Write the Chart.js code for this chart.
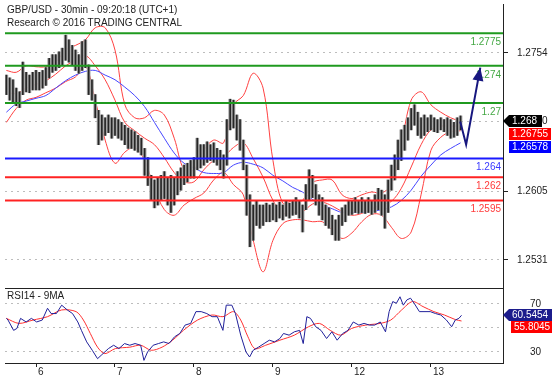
<!DOCTYPE html>
<html lang="en">
<head>
  <meta charset="UTF-8" />
  <title>GBP/USD - 30min</title>
  <script src="https://cdn.jsdelivr.net/npm/chart.js"></script>
  <style>
    html, body {
      margin: 0;
      padding: 0;
      background: #fff;
    }
    body {
      width: 557px;
      height: 378px;
      position: relative;
      overflow: hidden;
      font-family: Arial, "Liberation Sans", sans-serif;
    }
    #priceWrap { position: absolute; left: 0; top: 0; width: 557px; height: 288px; }
    #rsiWrap { position: absolute; left: 0; top: 288px; width: 557px; height: 90px; }
    .caption {
      position: absolute;
      left: 7px;
      font-size: 10px;
      line-height: 12.5px;
      color: #222;
      white-space: nowrap;
    }
  </style>
</head>
<body>
  <div id="priceWrap"><canvas id="priceChart" width="557" height="288"></canvas></div>
  <div id="rsiWrap"><canvas id="rsiChart" width="557" height="90"></canvas></div>
  <div class="caption" style="top:4px">GBP/USD - 30min - 09:20:18 (UTC+1)<br>Research © 2016 TRADING CENTRAL</div>
  <div class="caption" style="top:290px">RSI14 - 9MA</div>

  <script>
    // time axis is in hours, 0 = start of day 6 (weekend removed)
    const dayTicks = [0, 24, 48, 72, 96, 120];
    const dayLabels = ['6', '7', '8', '9', '12', '13'];
    const priceTicks = [1.2531, 1.2605, 1.2680, 1.2754];
    const rsiTicks = [30, 50, 70];

    // hourly price bars (high / low), first bar at hour -9
    const firstBarHour = -9;
    const barHigh = [
      1.2730, 1.2727, 1.2725, 1.2716, 1.2712, 1.2744, 1.2733, 1.2730, 1.2733,
      1.2735, 1.2733, 1.2735, 1.2738, 1.2748, 1.2752, 1.2752, 1.2755, 1.2759, 1.2773,
      1.2768, 1.2762, 1.2757, 1.2752, 1.2766, 1.2768, 1.2741, 1.2725, 1.2709, 1.2692,
      1.2687, 1.2684, 1.2687, 1.2684, 1.2684, 1.2682, 1.2679, 1.2676, 1.2673, 1.2671,
      1.2669, 1.2665, 1.2662, 1.2651, 1.2641, 1.2622, 1.2617, 1.2619, 1.2622, 1.2626,
      1.2619, 1.2622, 1.2619, 1.2626, 1.2630, 1.2633, 1.2635, 1.2638, 1.2641, 1.2662,
      1.2655, 1.2655, 1.2658, 1.2655, 1.2657, 1.2651, 1.2649, 1.2644, 1.2682, 1.2704,
      1.2703, 1.2687, 1.2682, 1.2660, 1.2633, 1.2601, 1.2590, 1.2595, 1.2590, 1.2590,
      1.2592, 1.2590, 1.2592, 1.2590, 1.2593, 1.2590, 1.2595, 1.2592, 1.2595, 1.2598,
      1.2595, 1.2590, 1.2612, 1.2628, 1.2622, 1.2612, 1.2601, 1.2598, 1.2590, 1.2587,
      1.2579, 1.2574, 1.2579, 1.2587, 1.2590, 1.2595, 1.2595, 1.2598, 1.2595, 1.2598,
      1.2595, 1.2598, 1.2595, 1.2601, 1.2608, 1.2606, 1.2601, 1.2617, 1.2633, 1.2644,
      1.2660, 1.2671, 1.2676, 1.2684, 1.2694, 1.2698, 1.2690, 1.2684, 1.2687, 1.2684,
      1.2687, 1.2684, 1.2682, 1.2684, 1.2682, 1.2684, 1.2682, 1.2679, 1.2684, 1.2686
    ];
    const barLow = [
      1.2709, 1.2703, 1.2700, 1.2697, 1.2695, 1.2709, 1.2712, 1.2711, 1.2714,
      1.2714, 1.2714, 1.2716, 1.2719, 1.2727, 1.2733, 1.2735, 1.2738, 1.2741, 1.2746,
      1.2744, 1.2741, 1.2735, 1.2732, 1.2735, 1.2738, 1.2709, 1.2703, 1.2684, 1.2655,
      1.2660, 1.2665, 1.2668, 1.2662, 1.2665, 1.2662, 1.2660, 1.2655, 1.2651, 1.2651,
      1.2649, 1.2647, 1.2644, 1.2622, 1.2611, 1.2595, 1.2587, 1.2590, 1.2595, 1.2597,
      1.2590, 1.2582, 1.2590, 1.2601, 1.2606, 1.2612, 1.2615, 1.2619, 1.2619, 1.2628,
      1.2630, 1.2633, 1.2636, 1.2638, 1.2636, 1.2633, 1.2628, 1.2619, 1.2633, 1.2671,
      1.2673, 1.2660, 1.2649, 1.2628, 1.2579, 1.2545, 1.2552, 1.2568, 1.2565, 1.2568,
      1.2572, 1.2572, 1.2574, 1.2572, 1.2576, 1.2574, 1.2578, 1.2576, 1.2579, 1.2580,
      1.2576, 1.2561, 1.2585, 1.2595, 1.2598, 1.2590, 1.2579, 1.2574, 1.2568, 1.2565,
      1.2558, 1.2552, 1.2552, 1.2568, 1.2572, 1.2579, 1.2580, 1.2582, 1.2581, 1.2582,
      1.2581, 1.2582, 1.2580, 1.2582, 1.2585, 1.2579, 1.2565, 1.2582, 1.2606, 1.2617,
      1.2628, 1.2638, 1.2649, 1.2660, 1.2671, 1.2676, 1.2665, 1.2662, 1.2665, 1.2669,
      1.2671, 1.2669, 1.2668, 1.2671, 1.2669, 1.2665, 1.2662, 1.2663, 1.2665, 1.2671
    ];

    // Bollinger bands and the blue moving average, read every 3 hours
    const bandHours = [-9, -6, -3, 0, 3, 6, 9, 12, 15, 18, 21, 24, 27, 30, 33, 36, 39, 42, 45, 48,
      51, 54, 57, 60, 63, 66, 69, 72, 75, 78, 81, 84, 87, 90, 93, 96, 99, 102, 105, 108,
      111, 114, 117, 120, 123, 126, 129];
    const bbUpper = [1.2735, 1.2733, 1.2740, 1.2739, 1.2739, 1.2744, 1.2757, 1.2762, 1.2768, 1.2781,
      1.2781, 1.2757, 1.2698, 1.2684, 1.2684, 1.2692, 1.2687, 1.2662, 1.2628, 1.2628,
      1.2649, 1.2660, 1.2657, 1.2698, 1.2708, 1.2732, 1.2716, 1.2638, 1.2592, 1.2595,
      1.2595, 1.2614, 1.2617, 1.2617, 1.2601, 1.2597, 1.2601, 1.2604, 1.2603, 1.2612,
      1.2655, 1.2703, 1.2712, 1.2698, 1.2690, 1.2684, 1.2680];
    const bbMiddle = [1.2712, 1.2710, 1.2716, 1.2720, 1.2724, 1.2731, 1.2740, 1.2746, 1.2751, 1.2740,
      1.2725, 1.2703, 1.2679, 1.2670, 1.2662, 1.2655, 1.2641, 1.2625, 1.2615, 1.2615,
      1.2628, 1.2638, 1.2642, 1.2652, 1.2657, 1.2640, 1.2620, 1.2595, 1.2581, 1.2582,
      1.2583, 1.2591, 1.2593, 1.2589, 1.2583, 1.2579, 1.2581, 1.2586, 1.2590, 1.2594,
      1.2608, 1.2631, 1.2655, 1.2671, 1.2675, 1.2675, 1.2675];
    const bbLower = [1.2679, 1.2694, 1.2703, 1.2706, 1.2711, 1.2716, 1.2723, 1.2728, 1.2740, 1.2703,
      1.2660, 1.2635, 1.2647, 1.2652, 1.2638, 1.2608, 1.2585, 1.2579, 1.2590, 1.2597,
      1.2603, 1.2617, 1.2625, 1.2612, 1.2601, 1.2552, 1.2518, 1.2552, 1.2570, 1.2574,
      1.2574, 1.2572, 1.2572, 1.2563, 1.2554, 1.2560, 1.2572, 1.2580, 1.2579, 1.2566,
      1.2554, 1.2561, 1.2601, 1.2649, 1.2663, 1.2669, 1.2670];
    const maBlue = [1.2690, 1.2699, 1.2702, 1.2705, 1.2708, 1.2716, 1.2724, 1.2730, 1.2734, 1.2735,
      1.2730, 1.2725, 1.2717, 1.2708, 1.2696, 1.2679, 1.2662, 1.2646, 1.2635, 1.2630,
      1.2625, 1.2624, 1.2625, 1.2633, 1.2636, 1.2634, 1.2630, 1.2622, 1.2616, 1.2609,
      1.2604, 1.2596, 1.2590, 1.2586, 1.2582, 1.2582, 1.2582, 1.2583, 1.2585, 1.2588,
      1.2595, 1.2606, 1.2621, 1.2633, 1.2644, 1.2651, 1.2657];

    // support / resistance levels
    const levelValues = [1.2775, 1.274, 1.27, 1.264, 1.262, 1.2595];
    const levelLabels = ['1.2775', '1.274', '1.27', '1.264', '1.262', '1.2595'];
    const levelColors = ['#1f9a1f', '#1f9a1f', '#1f9a1f', '#1a1aff', '#ff2222', '#ff2222'];
    const levelTextColors = ['#44a844', '#44a844', '#44a844', '#3a3aff', '#ff3a3a', '#ff3a3a'];

    // expected path
    const arrowHours = [128.9, 130.7, 135];
    const arrowPrices = [1.2680, 1.2655, 1.2738];

    const lastPrice = 1.268;
    const lastMiddle = 1.26755;
    const lastBlue = 1.26578;

    // RSI14 and its 9 period average
    const rsiHours = [-9, -8.5, -6.8, -5.8, -4.7, -3, -1.4, 0.2, 1.9, 3.5, 4.6, 6.2, 7.8, 9.5, 11.1, 12.7,
      13.8, 15.4, 17.1, 18.7, 19.8, 22, 23.6, 25.2, 26.9, 28.5, 30.1, 31.8, 32.8, 33.9, 35.6, 37.2,
      38.8, 40.4, 42.1, 43.7, 45.3, 47, 48.6, 50.2, 51.9, 53.5, 55.1, 56.8, 57.8, 59.5, 60.6, 62.2,
      63.8, 64.9, 66, 67.6, 69.3, 70.9, 72.5, 74.1, 75.2, 76.9, 78.5, 80.1, 81.2, 82.3, 83.4, 85,
      86.6, 88.3, 89.9, 91.5, 93.2, 94.8, 96.4, 98.1, 99.7, 101.3, 102.9, 104.6, 106.2, 107.3, 108.4,
      109.5, 110.6, 111.6, 112.7, 113.8, 114.9, 116.5, 118.2, 119.8, 121.4, 123, 124.7, 126.3, 127.4,
      128.5, 129.3];
    const rsiValues = [58, 56.6, 48, 49.6, 58, 55, 58, 55, 56.6, 66.4, 62, 62, 69, 65, 62, 55,
      48, 38.4, 31.4, 24.4, 27.2, 32.8, 35.6, 32.8, 37, 35.6, 37, 35.6, 23, 30, 35.6, 37,
      38.4, 37, 42.6, 45.4, 52.4, 53.8, 63.6, 63.6, 62, 59.4, 59.4, 48, 69, 69, 62, 44,
      30, 25.8, 31.4, 34, 37, 39.8, 38.4, 41.2, 45.4, 44, 46.8, 48, 37, 59.4, 58, 51,
      48, 41.2, 46.8, 39.8, 45.4, 48, 55, 52.4, 53.8, 52.4, 52.4, 55, 46.8, 63.6, 72,
      70.6, 76, 69, 73.4, 74.8, 70.6, 63.6, 63.6, 63.6, 62, 60.8, 56.6, 51, 56.6,
      58, 60.5454];
    const rsiMaHours = [-9, -5.2, -0.9, 3.5, 7.8, 12.2, 14.4, 16.5, 18.7, 20.9, 24.1, 28.5, 31.8, 35,
      38.3, 41.5, 44.8, 49.1, 53.5, 56.8, 60, 62.2, 64.4, 66.5, 69.8, 74.1, 78.5, 82.8, 86.1, 89.4,
      92.6, 95.9, 100.2, 104.6, 107.8, 111.1, 114.4, 117.6, 120.9, 124.1, 127.4, 129.3];
    const rsiMaValues = [58, 53.8, 56.6, 59.4, 65, 63.6, 56.6, 45.4, 34, 28.6, 32.8, 34, 35.6, 31.4,
      34, 39.8, 48, 56.6, 60.8, 59.4, 63.6, 56.6, 42.6, 32.8, 35.6, 39.8, 44, 51, 53.8, 48,
      44, 49.6, 52.4, 53.8, 56.6, 65, 72, 67.8, 63.6, 60.8, 57, 55.8045];
    const lastRsi = 60.5454;
    const lastRsiMa = 55.8045;

    const X_MIN = -9.42;
    const X_MAX = 141.9;
    const FONT = 'Arial, "Liberation Sans", sans-serif';
    const ARROW_COLOR = '#17177f';

    Chart.defaults.font.family = FONT;
    Chart.defaults.font.size = 10;
    Chart.defaults.color = '#222';

    function pts(xs, ys) {
      return xs.map((x, i) => ({ x: x, y: ys[i] }));
    }

    function lineSet(data, color, width, tension) {
      return {
        type: 'line',
        data: data,
        borderColor: color,
        borderWidth: width,
        pointRadius: 0,
        tension: tension,
        fill: false
      };
    }

    function tagBox(ctx, text, left, right, cy, fill, pointed) {
      const h = 12;
      const top = Math.round(cy - h / 2);
      ctx.beginPath();
      if (pointed) {
        ctx.moveTo(left - 6, top + h / 2);
        ctx.lineTo(left, top);
        ctx.lineTo(right, top);
        ctx.lineTo(right, top + h);
        ctx.lineTo(left, top + h);
        ctx.closePath();
      } else {
        ctx.rect(left, top, right - left, h);
      }
      ctx.fillStyle = fill;
      ctx.fill();
      ctx.fillStyle = '#fff';
      ctx.textAlign = 'left';
      ctx.textBaseline = 'middle';
      ctx.fillText(text, left + 3, top + h / 2 + 0.5);
    }

    const priceOverlay = {
      id: 'priceOverlay',
      afterDatasetsDraw(chart) {
        const { ctx, scales: { x, y } } = chart;
        ctx.save();
        ctx.font = '10px ' + FONT;
        ctx.textAlign = 'right';
        ctx.textBaseline = 'middle';
        levelValues.forEach((v, i) => {
          ctx.fillStyle = levelTextColors[i];
          ctx.fillText(levelLabels[i], x.right - 2, y.getPixelForValue(v) + 9);
        });
        // arrow head at the end of the forecast path
        const n = arrowHours.length;
        const tx = x.getPixelForValue(arrowHours[n - 1]);
        const ty = y.getPixelForValue(arrowPrices[n - 1]);
        const fx = x.getPixelForValue(arrowHours[n - 2]);
        const fy = y.getPixelForValue(arrowPrices[n - 2]);
        const a = Math.atan2(ty - fy, tx - fx);
        const len = 13, half = 5.5;
        const bx = tx - len * Math.cos(a), by = ty - len * Math.sin(a);
        ctx.beginPath();
        ctx.moveTo(tx, ty);
        ctx.lineTo(bx + half * Math.sin(a), by - half * Math.cos(a));
        ctx.lineTo(bx - half * Math.sin(a), by + half * Math.cos(a));
        ctx.closePath();
        ctx.fillStyle = ARROW_COLOR;
        ctx.fill();
        ctx.restore();
      },
      afterDraw(chart) {
        const { ctx, scales: { y } } = chart;
        ctx.save();
        ctx.font = '10px ' + FONT;
        const cy = y.getPixelForValue(lastPrice);
        tagBox(ctx, lastPrice.toFixed(3), 509, 542, cy, '#000', true);
        tagBox(ctx, lastMiddle.toFixed(5), 509, 551, cy + 13, '#ff0000', false);
        tagBox(ctx, lastBlue.toFixed(5), 509, 551, cy + 26, '#0000ff', false);
        ctx.restore();
      }
    };

    const rsiOverlay = {
      id: 'rsiOverlay',
      afterDraw(chart) {
        const { ctx, scales: { y } } = chart;
        ctx.save();
        ctx.font = '10px ' + FONT;
        const cy = y.getPixelForValue(lastRsi);
        tagBox(ctx, lastRsi.toFixed(4), 509, 552, cy, '#1c1c8c', true);
        tagBox(ctx, lastRsiMa.toFixed(4), 511, 552, cy + 12, '#ff0000', false);
        ctx.restore();
      }
    };

    const barData = barHigh.map((hi, i) => ({ x: firstBarHour + i, y: [barLow[i], hi] }));

    const priceDatasets = [
      lineSet(pts(arrowHours, arrowPrices), ARROW_COLOR, 2, 0)
    ];
    levelValues.forEach((v, i) => {
      priceDatasets.push(lineSet([{ x: X_MIN, y: v }, { x: X_MAX, y: v }], levelColors[i], 2, 0));
    });
    priceDatasets.push(
      { type: 'bar', data: barData, backgroundColor: '#262626', barThickness: 1, grouped: false },
      { type: 'bar', data: barData, backgroundColor: '#a2a2a2', barThickness: 3, grouped: false },
      lineSet(pts(bandHours, maBlue), '#4646ff', 1, 0.35),
      lineSet(pts(bandHours, bbUpper), '#ff4040', 1, 0.35),
      lineSet(pts(bandHours, bbMiddle), '#ff4040', 1, 0.35),
      lineSet(pts(bandHours, bbLower), '#ff4040', 1, 0.35)
    );

    new Chart(document.getElementById('priceChart'), {
      type: 'bar',
      data: { datasets: priceDatasets },
      options: {
        responsive: false,
        animation: false,
        devicePixelRatio: 1,
        layout: { padding: { left: 5, right: 0, top: 4, bottom: 0 } },
        plugins: { legend: { display: false }, tooltip: { enabled: false } },
        scales: {
          x: { type: 'linear', display: false, min: X_MIN, max: X_MAX, offset: false },
          y: {
            position: 'right',
            min: 1.25006,
            max: 1.28066,
            afterBuildTicks: s => { s.ticks = priceTicks.map(v => ({ value: v })); },
            afterFit: s => { s.width = 54; s.paddingTop = 0; s.paddingBottom = 0; },
            ticks: { callback: v => v.toFixed(4), color: '#222', padding: 9 },
            grid: { color: '#bdbdbd', tickColor: '#222', tickLength: 5, tickBorderDash: [] },
            border: { color: '#222', dash: [2, 4] }
          }
        }
      },
      plugins: [priceOverlay]
    });

    new Chart(document.getElementById('rsiChart'), {
      type: 'line',
      data: {
        datasets: [
          lineSet(pts(rsiHours, rsiValues), '#20209a', 1, 0),
          lineSet(pts(rsiMaHours, rsiMaValues), '#ff3030', 1, 0.3)
        ]
      },
      options: {
        responsive: false,
        animation: false,
        devicePixelRatio: 1,
        layout: { padding: { left: 5, right: 0, top: 0, bottom: 0 } },
        plugins: { legend: { display: false }, tooltip: { enabled: false } },
        scales: {
          x: {
            type: 'linear',
            position: 'bottom',
            min: X_MIN,
            max: X_MAX,
            afterBuildTicks: s => { s.ticks = dayTicks.map(v => ({ value: v })); },
            afterFit: s => { s.height = 15; s.paddingLeft = 0; s.paddingRight = 0; },
            ticks: {
              callback: v => dayLabels[dayTicks.indexOf(v)],
              align: 'start',
              labelOffset: 2,
              padding: -1,
              maxRotation: 0,
              autoSkip: false,
              color: '#222'
            },
            grid: { drawOnChartArea: false, tickLength: 4, tickColor: '#222' },
            border: { color: '#222' }
          },
          xTop: {
            type: 'linear',
            position: 'top',
            min: X_MIN,
            max: X_MAX,
            afterFit: s => { s.height = 0; },
            ticks: { display: false },
            grid: { display: false, drawTicks: false },
            border: { color: '#222' }
          },
          y: {
            position: 'right',
            min: 20.8,
            max: 83.3,
            afterBuildTicks: s => { s.ticks = rsiTicks.map(v => ({ value: v })); },
            afterFit: s => { s.width = 54; s.paddingTop = 0; s.paddingBottom = 0; },
            ticks: { callback: v => (v === 50 ? '' : String(v)), color: '#222', padding: 27 },
            grid: { color: '#bdbdbd', drawTicks: false, tickLength: 5 },
            border: { color: '#222', dash: [2, 4] }
          }
        }
      },
      plugins: [rsiOverlay]
    });
  </script>
</body>
</html>
